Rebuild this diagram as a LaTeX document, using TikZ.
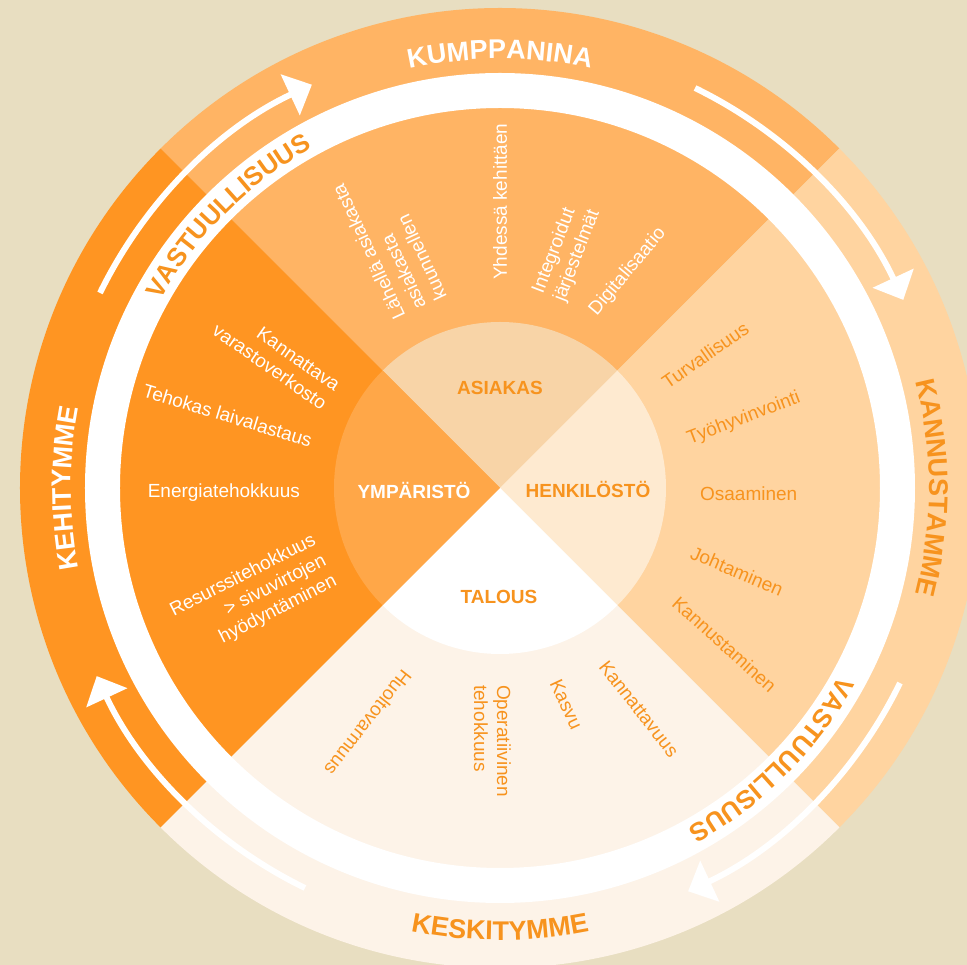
\documentclass[tikz,border=0pt]{standalone}
\usepackage{fontspec}
\setmainfont{Liberation Sans}
\usetikzlibrary{arrows.meta,decorations.text}
\definecolor{SandBeige}{RGB}{232, 222, 193}
\definecolor{MangoOrange}{RGB}{255, 180, 100}
\definecolor{PeachCream}{RGB}{255, 212, 160}
\definecolor{LinenWhite}{RGB}{253, 243, 232}
\definecolor{DeepOrange}{RGB}{255, 149, 34}
\definecolor{AsiakasTone}{RGB}{248, 212, 167}
\definecolor{HenkiloTone}{RGB}{254, 234, 208}
\definecolor{YmparistoTone}{RGB}{255, 167, 72}
\definecolor{TextOrange}{RGB}{247, 147, 30}

\newcommand\bandfont{\fontsize{27}{32}\selectfont\bfseries}
\newcommand\ringfont{\fontsize{26}{31}\selectfont\bfseries}

\begin{document}
\begin{tikzpicture}[x=1pt, y=1pt,
    item/.style={font=\fontsize{19}{23}\selectfont, inner sep=0pt, anchor=west, align=left},
    itemleft/.style={item, anchor=east, align=right},
    hub/.style={font=\fontsize{19}{23}\selectfont\bfseries, inner sep=0pt},
    bandlabel/.style n args={3}{decorate, decoration={text along path, text align=center, text color=#1, text={|#3|#2}}}]
    \useasboundingbox (-500,-477) rectangle (467,488);
    \fill[SandBeige] (-500,-477) rectangle (467,488);

    \foreach \a/\c in {45/MangoOrange, -45/PeachCream, 225/LinenWhite, 135/DeepOrange}
        \fill[\c] (0,0) -- (\a:480) arc[start angle=\a, delta angle=90, radius=480pt] -- cycle;
    \fill[white, even odd rule] (0,0) circle[radius=415pt] circle[radius=380pt];
    \foreach \a/\c in {45/AsiakasTone, -45/HenkiloTone, 225/white, 135/YmparistoTone}
        \fill[\c] (0,0) -- (\a:166) arc[start angle=\a, delta angle=90, radius=166pt] -- cycle;

    \foreach \s in {154,64,-26,-116}
        \draw[white, line width=6pt, -{Triangle[width=44pt, length=24pt]}] (\s:445) arc[start angle=\s, delta angle=-39, radius=445pt];

    \path[bandlabel={white}{KUMPPANINA}{\bandfont}] (150:429) arc[start angle=150, end angle=30, radius=429pt];
    \path[bandlabel={TextOrange}{KANNUSTAMME}{\bandfont}] (60:429) arc[start angle=60, end angle=-60, radius=429pt];
    \path[bandlabel={white}{KEHITYMME}{\bandfont}] (240:429) arc[start angle=240, end angle=120, radius=429pt];
    \path[bandlabel={TextOrange}{KESKITYMME}{\bandfont}] (210:452) arc[start angle=210, end angle=330, radius=452pt];
    \path[bandlabel={TextOrange}{VASTUULLISUUS}{\ringfont}] (180:388) arc[start angle=180, end angle=90, radius=388pt];
    \path[bandlabel={TextOrange}{VASTUULLISUUS}{\ringfont}] (0:388) arc[start angle=0, end angle=-90, radius=388pt];

    \node[hub, TextOrange] (asiakas) at (0,100) {ASIAKAS};
    \node[hub, TextOrange] (henkilosto) at (88,-1.5) {HENKILÖSTÖ};
    \node[hub, TextOrange] (talous) at (-1,-109) {TALOUS};
    \node[hub, white] (ymparisto) at (-86,-2) {YMPÄRISTÖ};

    \node[item, text=white, rotate=115] (lahella) at (114:196) {Lähellä asiakasta\\asiakasta\\kuunnellen};
    \node[item, text=white, rotate=90] (yhdessa) at (90:208) {Yhdessä kehittäen};
    \node[item, text=white, rotate=69] (integroidut) at (75.6:197) {Integroidut\\järjestelmät};
    \node[item, text=white, rotate=50] (digi) at (62:198) {Digitalisaatio};

    \node[item, text=TextOrange, rotate=35] (turva) at (32.4:194) {Turvallisuus};
    \node[item, text=TextOrange, rotate=21] (hyvinvointi) at (14.3:194) {Työhyvinvointi};
    \node[item, text=TextOrange] (osaaminen) at (-1.5:200) {Osaaminen};
    \node[item, text=TextOrange, rotate=-23] (johtaminen) at (-18.4:202) {Johtaminen};
    \node[item, text=TextOrange, rotate=-42] (kannustaminen) at (-32.6:208) {Kannustaminen};

    \node[item, text=TextOrange, rotate=232] (huolto) at (243.4:206) {Huoltovarmuus};
    \node[item, text=TextOrange, rotate=-90] (operatiivinen) at (267.8:197) {Operatiivinen\\tehokkuus};
    \node[item, text=TextOrange, rotate=-65] (kasvu) at (-74:200) {Kasvu};
    \node[item, text=TextOrange, rotate=-52] (kannattavuus) at (-59.5:203) {Kannattavuus};

    \node[itemleft, text=white, rotate=-35] (varasto) at (151.4:192) {Kannattava\\varastoverkosto};
    \node[itemleft, text=white, rotate=-17] (laiva) at (166:194) {Tehokas laivalastaus};
    \node[itemleft, text=white] (energia) at (181.4:200) {Energiatehokkuus};
    \node[itemleft, text=white, rotate=27] (resurssi) at (202.4:189) {Resurssitehokkuus\\> sivuvirtojen\\hyödyntäminen};
\end{tikzpicture}
\end{document}
